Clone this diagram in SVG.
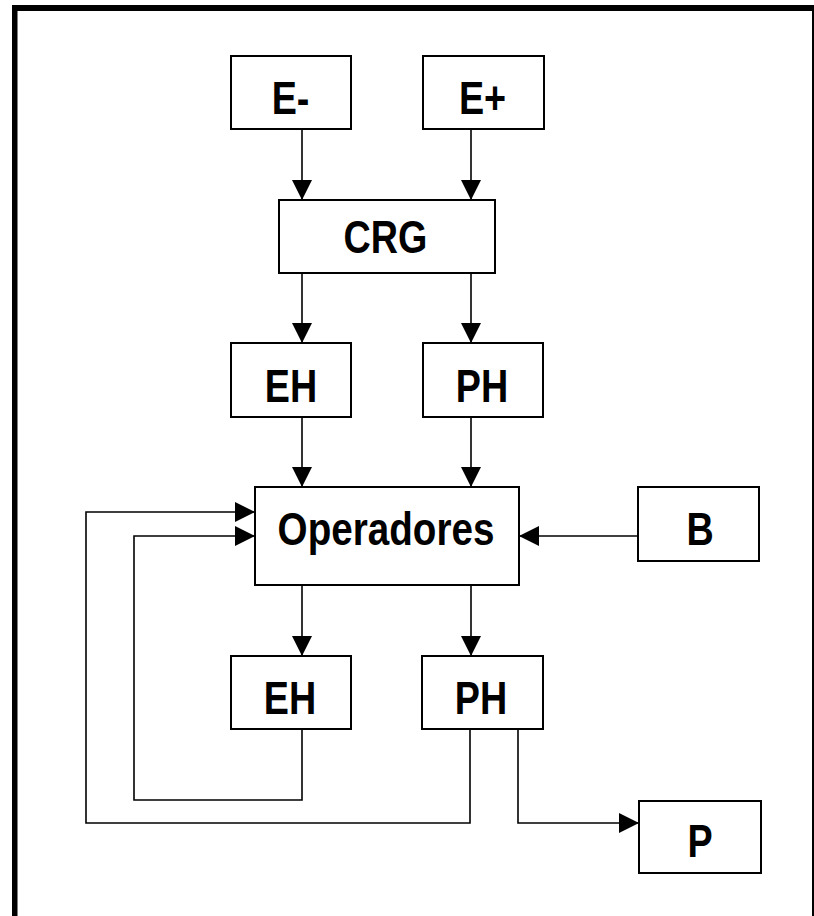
<svg xmlns="http://www.w3.org/2000/svg" width="814" height="916" viewBox="0 0 814 916">
<style>
.box{fill:#fff;stroke:#000;stroke-width:2}
.lbl{font-family:"Liberation Sans",Arial,sans-serif;font-weight:bold;font-size:46px;fill:#000;text-anchor:middle}
.con{fill:none;stroke:#000;stroke-width:1.6}
</style>
<defs>
<marker id="ah" markerUnits="userSpaceOnUse" markerWidth="20" markerHeight="20" refX="20" refY="10" orient="auto" viewBox="0 0 20 20">
<path d="M0,0 L20,10 L0,20 z" fill="#000"/>
</marker>
</defs>
<rect x="0" y="0" width="814" height="916" fill="#fff"/>
<g id="frame">
<rect x="12" y="5" width="802" height="6" fill="#000"/>
<rect x="12" y="5" width="5.5" height="911" fill="#000"/>
<rect x="812" y="5" width="2" height="911" fill="#000"/>
</g>
<g id="connectors">
<path class="con" d="M302,129 V200" marker-end="url(#ah)"/>
<path class="con" d="M471,129 V200" marker-end="url(#ah)"/>
<path class="con" d="M302,273 V343" marker-end="url(#ah)"/>
<path class="con" d="M471,273 V343" marker-end="url(#ah)"/>
<path class="con" d="M302,417 V487" marker-end="url(#ah)"/>
<path class="con" d="M471,417 V487" marker-end="url(#ah)"/>
<path class="con" d="M638,536 H519" marker-end="url(#ah)"/>
<path class="con" d="M302,585 V656" marker-end="url(#ah)"/>
<path class="con" d="M471,585 V656" marker-end="url(#ah)"/>
<path class="con" d="M302,729 V800 H134 V536 H255" marker-end="url(#ah)"/>
<path class="con" d="M470,729 V823 H86 V512 H255" marker-end="url(#ah)"/>
<path class="con" d="M518,729 V823 H639" marker-end="url(#ah)"/>
</g>
<g id="n-eminus"><rect class="box" x="231" y="56" width="120" height="73"/><text class="lbl" transform="translate(290.5,114) scale(0.82,1)">E-</text></g>
<g id="n-eplus"><rect class="box" x="423" y="56" width="121" height="73"/><text class="lbl" transform="translate(482.5,114) scale(0.82,1)">E+</text></g>
<g id="n-crg"><rect class="box" x="279" y="200" width="216" height="73"/><text class="lbl" transform="translate(385.5,253) scale(0.82,1)">CRG</text></g>
<g id="n-eh1"><rect class="box" x="231" y="343" width="120" height="74"/><text class="lbl" transform="translate(291,402) scale(0.82,1)">EH</text></g>
<g id="n-ph1"><rect class="box" x="423" y="343" width="120" height="74"/><text class="lbl" transform="translate(482,402) scale(0.82,1)">PH</text></g>
<g id="n-op"><rect class="box" x="255" y="487" width="264" height="98"/><text class="lbl" transform="translate(386,545) scale(0.84,1)">Operadores</text></g>
<g id="n-b"><rect class="box" x="638" y="487" width="121" height="74"/><text class="lbl" transform="translate(700,545) scale(0.82,1)">B</text></g>
<g id="n-eh2"><rect class="box" x="231" y="656" width="120" height="73"/><text class="lbl" transform="translate(290,714) scale(0.82,1)">EH</text></g>
<g id="n-ph2"><rect class="box" x="422" y="656" width="121" height="73"/><text class="lbl" transform="translate(481,714) scale(0.82,1)">PH</text></g>
<g id="n-p"><rect class="box" x="639" y="801" width="122" height="72"/><text class="lbl" transform="translate(700,857) scale(0.82,1)">P</text></g>
</svg>
